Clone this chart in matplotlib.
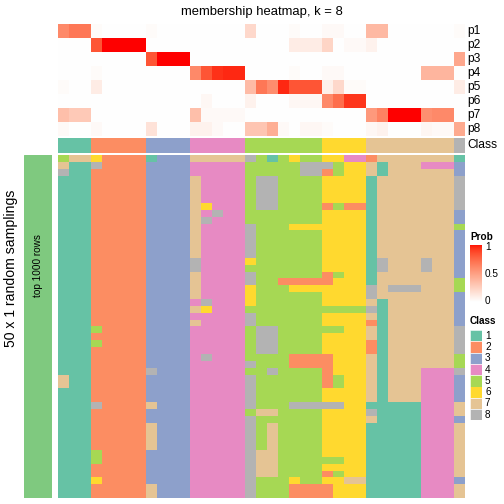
import numpy as np
import matplotlib
matplotlib.use("Agg")
import matplotlib.pyplot as plt
from matplotlib.colors import ListedColormap
from matplotlib.patches import Rectangle

plt.rcParams['font.family'] = ['Liberation Sans', 'DejaVu Sans']

title = "membership heatmap, k = 8"
prob_labels = ["p1", "p2", "p3", "p4", "p5", "p6", "p7", "p8"]
class_labels = ["1", "2", "3", "4", "5", "6", "7", "8"]
class_colors = ["#66C2A5", "#FC8D62", "#8DA0CB", "#E78AC3",
                "#A6D854", "#FFD92F", "#E5C494", "#B3B3B3"]
left_label = "50 x 1 random samplings"
bar_label = "top 1000 rows"

# consensus class per column
column_class = "1112222233334444455555556666777777778"

# membership probabilities per column
p1 = [0.6, 0.68, 0.68, 0.02, 0, 0, 0, 0, 0.02, 0, 0, 0, 0, 0, 0, 0, 0, 0.2, 0, 0, 0, 0.02, 0, 0, 0.03, 0.03, 0, 0, 0.36, 0.36, 0, 0, 0, 0, 0, 0, 0.02]
p2 = [0, 0, 0, 0.82, 1, 1, 1, 1, 0, 0, 0, 0, 0, 0, 0, 0, 0, 0, 0, 0, 0, 0.1, 0.1, 0.1, 0.22, 0, 0.03, 0.03, 0.07, 0, 0, 0, 0, 0, 0, 0, 0]
p3 = [0, 0, 0, 0, 0, 0, 0, 0, 0.82, 1, 1, 1, 0, 0, 0, 0, 0, 0, 0, 0, 0, 0, 0, 0, 0, 0, 0, 0, 0, 0, 0, 0, 0, 0, 0, 0, 0.45]
p4 = [0, 0, 0, 0.02, 0, 0, 0, 0, 0, 0, 0, 0, 0.6, 0.82, 0.93, 0.95, 0.95, 0, 0, 0, 0, 0.02, 0, 0, 0.03, 0.03, 0, 0, 0, 0, 0, 0, 0, 0.38, 0.38, 0.38, 0]
p5 = [0.02, 0, 0, 0.1, 0, 0, 0, 0, 0, 0, 0, 0, 0, 0, 0, 0, 0, 0.35, 0.68, 0.58, 0.95, 0.82, 0.82, 0.82, 0.08, 0.2, 0.02, 0.02, 0, 0, 0, 0, 0, 0, 0, 0, 0.1]
p6 = [0, 0, 0, 0, 0, 0, 0, 0, 0, 0, 0, 0, 0, 0.04, 0, 0, 0, 0.07, 0, 0, 0, 0.04, 0.04, 0.04, 0.6, 0.72, 0.92, 0.92, 0, 0, 0, 0, 0, 0, 0, 0, 0]
p7 = [0.33, 0.28, 0.28, 0, 0, 0, 0, 0, 0, 0, 0, 0, 0.33, 0.03, 0.03, 0.03, 0.03, 0, 0, 0, 0, 0, 0, 0, 0, 0, 0, 0, 0.52, 0.63, 1, 1, 1, 0.57, 0.6, 0.6, 0]
p8 = [0.03, 0, 0, 0.03, 0, 0, 0, 0, 0.15, 0, 0, 0, 0.07, 0.07, 0.03, 0, 0, 0.3, 0.3, 0.42, 0.03, 0, 0.04, 0.04, 0.02, 0, 0, 0, 0.04, 0.07, 0, 0, 0, 0.05, 0.03, 0.03, 0.44]

# class assignment in each of the 50 random samplings (one string per sampling)
samplings = [
    "577622221333777778515655664427777777" + "1",
    "711822223333444445555588856671777444" + "3",
    "811222223333444445555588256671777777" + "3",
    "111222223333744445885555666617777777" + "8",
    "111222223333744445885555666617777777" + "8",
    "111222223333744445885555666617777777" + "8",
    "111222223333744445885555666617777777" + "8",
    "111222223333764445885555252217777777" + "8",
    "111222223333748445555555666617777777" + "3",
    "111222223333784445555555666617777777" + "3",
    "111222223333744448555666666617777777" + "5",
    "111222223333744448555555666617777777" + "3",
    "111222223333744448555555666617777777" + "3",
    "111222223333744448555555666617777777" + "3",
    "111222223333744448555555666617777777" + "3",
    "111222223333844446555555666618777877" + "3",
    "111222223333844445555555666618777877" + "3",
    "111222223333744448555555256617777777" + "3",
    "111222223333744448552222266617777777" + "5",
    "111222223333744446555666666687888777" + "5",
    "111222223333744446555555666687777777" + "3",
    "111222223333484446555555666671777777" + "3",
    "111222223333764445555555555581777777" + "3",
    "111222223333444448555555666671777777" + "3",
    "111222223333744448555555666621777777" + "3",
    "111522223333444445885555556671777777" + "8",
    "111222223333444445885555666671777777" + "8",
    "111522223333444445885555666621777777" + "8",
    "111222223333444445885555666621777777" + "8",
    "111222223333484445555222266671777777" + "5",
    "111222223333444448555222266671777777" + "5",
    "111222228333444445585555266671777444" + "8",
    "711222223333444448555555256671777444" + "3",
    "711222223333444448555555256671777444" + "3",
    "111222223333444448555555666671777444" + "3",
    "111222223333444448555555666671777444" + "3",
    "111822227333444448555888886611111444" + "7",
    "111222223333444445775555666681111444" + "7",
    "111222223333444448555555666671111444" + "3",
    "111222227333444448575555666611111444" + "7",
    "111222227333444448575555666611111444" + "7",
    "111222227333444448575555666611111444" + "7",
    "111222227333444448575555666611111444" + "7",
    "111522223333444448775555666611111444" + "7",
    "111522223333444448775555556611111444" + "7",
    "111222223333444448775555666611111444" + "7",
    "111222223333444448775555256611111444" + "7",
    "111622223333444448555655667711111444" + "3",
    "111222227333444448555222266611111444" + "7",
    "111222227333444448555222266611111444" + "7",
]

W, H = 504, 504
fig = plt.figure(figsize=(7, 7), dpi=72)


def px_axes(x0, y0, x1, y1):
    ax = fig.add_axes([x0 / W, 1 - y1 / H, (x1 - x0) / W, (y1 - y0) / H])
    ax.set_axis_off()
    return ax


def lab_to_srgb(L, a, b):
    fy = (L + 16) / 116
    fx = fy + a / 500
    fz = fy - b / 200
    def finv(t):
        return np.where(t ** 3 > 0.008856, t ** 3, (t - 16 / 116) / 7.787)
    X = 0.95047 * finv(fx)
    Y = 1.0 * finv(fy)
    Z = 1.08883 * finv(fz)
    r = 3.2406 * X - 1.5372 * Y - 0.4986 * Z
    g = -0.9689 * X + 1.8758 * Y + 0.0415 * Z
    bb = 0.0557 * X - 0.2040 * Y + 1.0570 * Z
    rgb = np.stack([r, g, bb], axis=-1)
    rgb = np.clip(rgb, 0, 1)
    rgb = np.where(rgb > 0.0031308, 1.055 * rgb ** (1 / 2.4) - 0.055, 12.92 * rgb)
    return np.clip(rgb, 0, 1)


t = np.linspace(0, 1, 256)
L = 100 + (53.24 - 100) * t
A = 0 + 80.09 * t
B = 0 + 67.20 * t
prob_cmap = ListedColormap(lab_to_srgb(L, A, B))
class_cmap = ListedColormap(class_colors)

x_left, x_right = 58, 465
ncol = len(column_class)

# probability heatmap
prob = np.array([p1, p2, p3, p4, p5, p6, p7, p8])
ax_p = px_axes(x_left, 24, x_right, 136)
ax_p.imshow(prob, cmap=prob_cmap, vmin=0, vmax=1, aspect='auto', interpolation='nearest')
for i, lab in enumerate(prob_labels):
    fig.text((x_right + 2.5) / W, 1 - (24 + 14 * i + 7) / H, lab, fontsize=12, va='center', ha='left')

# class annotation row
cls = np.array([[int(c) - 1 for c in column_class]])
ax_c = px_axes(x_left, 137.7, x_right, 152.7)
ax_c.imshow(cls, cmap=class_cmap, vmin=-0.5, vmax=7.5, aspect='auto', interpolation='nearest')
fig.text((x_right + 2.5) / W, 1 - 145.2 / H, "Class", fontsize=12, va='center', ha='left')

# sampling heatmap
mat = np.array([[int(c) - 1 for c in row] for row in samplings])
ax_m = px_axes(x_left, 155, x_right, 498)
ax_m.imshow(mat, cmap=class_cmap, vmin=-0.5, vmax=7.5, aspect='auto', interpolation='nearest')

# left green bar
ax_g = px_axes(24, 155, 52, 498)
ax_g.add_patch(Rectangle((0, 0), 1, 1, color="#7FC97F", transform=ax_g.transAxes))
fig.text(38 / W, 1 - 266 / H, bar_label, rotation=90, fontsize=10, va='center', ha='center')
fig.text(11 / W, 1 - 268 / H, left_label, rotation=90, fontsize=14, va='center', ha='center')

# title
fig.text(261.5 / W, 1 - 12 / H, title, fontsize=13, va='center', ha='center')

# Prob legend
fig.text(470 / W, 1 - 237 / H, "Prob", fontsize=10, fontweight='bold', va='center', ha='left')
ax_cb = px_axes(470, 245, 482, 302)
grad = np.linspace(1, 0, 100).reshape(-1, 1)
ax_cb.imshow(grad, cmap=prob_cmap, vmin=0, vmax=1, aspect='auto', interpolation='bilinear')
for val, ypx in [("1", 247), ("0.5", 274), ("0", 301)]:
    fig.text(485 / W, 1 - ypx / H, val, fontsize=10, va='center', ha='left')

# Class legend
fig.text(470 / W, 1 - 321 / H, "Class", fontsize=10, fontweight='bold', va='center', ha='left')
box_h = 11.3
for i, (lab, col) in enumerate(zip(class_labels, class_colors)):
    y0 = 330 + box_h * i
    ax_b = px_axes(470, y0, 482, y0 + box_h)
    ax_b.add_patch(Rectangle((0, 0), 1, 1, facecolor=col, edgecolor='white', lw=0.5, transform=ax_b.transAxes))
    fig.text(485 / W, 1 - (y0 + box_h / 2) / H, lab, fontsize=10, va='center', ha='left')

fig.savefig("out.png", dpi=72)
